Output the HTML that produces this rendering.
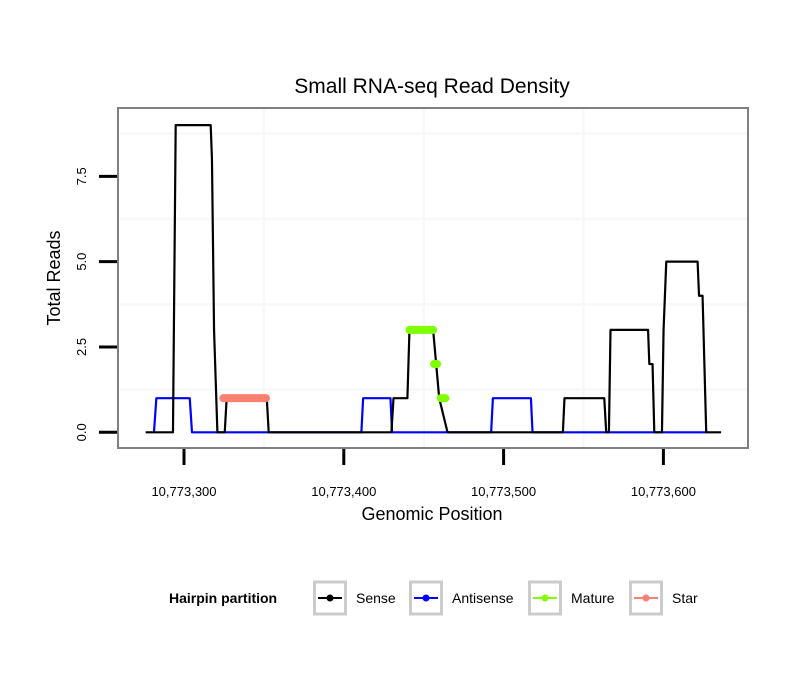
<!DOCTYPE html>
<html><head><meta charset="utf-8"><style>
body{margin:0;background:#fff;}
svg text{font-family:"Liberation Sans",sans-serif;}
</style></head><body>
<svg id="chart" width="810" height="690" xmlns="http://www.w3.org/2000/svg">
<rect width="810" height="690" fill="#fff"/>
<text x="432" y="93" font-size="21" text-anchor="middle">Small RNA-seq Read Density</text>
<g id="grid"></g>
<g id="series"></g>
<rect x="118" y="108" width="630" height="340" fill="none" stroke="#808080" stroke-width="2"/>
<g id="axes"></g>
<text x="432" y="520" font-size="18" text-anchor="middle">Genomic Position</text>
<text transform="translate(60,278) rotate(-90)" font-size="18" text-anchor="middle">Total Reads</text>
<g id="legend">
<text x="169" y="603" font-size="14" font-weight="bold">Hairpin partition</text>
</g>
</svg>
<script>
const sensePos=[276.0,293.1,294.8,316.7,317.5,318.8,320.9,325.5,326.7,351.8,353.0,429.8,431.1,439.8,441.1,455.9,457.8,459.7,464.9,537.1,538.1,563.0,564.2,565.9,566.9,590.4,591.2,593.2,594.3,599.1,600.1,601.8,621.4,622.3,624.5,626.8,636.1];
const senseVal=[0,0,9,9,8,3,0,0,1,1,0,0,1,1,3,3,2,1,0,0,1,1,0,0,3,3,2,2,0,0,3,5,5,4,4,0,0];
const antiPos=[281.2,282.7,303.6,305.0,411.0,412.1,429.2,430.2,492.2,493.3,517.1,518.1,626.8];
const antiVal=[0,1,1,0,0,1,1,0,0,1,1,0,0];
const matureSegs=[[441.1,455.9],[456.5,458.4],[460.7,463.6]];
const matureVal=[3,2,1];
const starSegs=[[324.6,351.3]];
const starVal=[1];
const yTicks=[0,2.5,5,7.5];
const yTickLabels=["0.0","2.5","5.0","7.5"];
const xTicks=[300,400,500,600];
const xTickLabels=["10,773,300","10,773,400","10,773,500","10,773,600"];
const legendNames=["Sense","Antisense","Mature","Star"];
const legendColors=["#000000","#0000ff","#7fff00","#fa8072"];

const NS="http://www.w3.org/2000/svg";
const X=p=>184+(p-300)*1.598;
const Y=v=>432.3-v*34.13;
function mk(tag,attrs,parent){const e=document.createElementNS(NS,tag);for(const k in attrs)e.setAttribute(k,attrs[k]);parent.appendChild(e);return e;}
const grid=document.getElementById('grid'),series=document.getElementById('series'),axes=document.getElementById('axes'),legend=document.getElementById('legend');
[1.25,3.75,6.25,8.75].forEach(v=>{const l=mk('line',{x1:119,x2:747,y1:Y(v),y2:Y(v),stroke:'#f8f8f8','stroke-width':2.5},grid);

});
[350,450,550].forEach(p=>{const l=mk('line',{x1:X(p),x2:X(p),y1:109,y2:447,stroke:'#f8f8f8','stroke-width':2.5},grid);

});
function poly(ps,vs,color,name){const pts=ps.map((p,i)=>X(p)+','+Y(vs[i])).join(' ');
const l=mk('polyline',{points:pts,fill:'none',stroke:color,'stroke-width':2.2,'stroke-linejoin':'round'},series);

}
poly(antiPos,antiVal,'#0000ff','antisense-line');
poly(sensePos,senseVal,'#000000','sense-line');
function segs(ss,vs,color,name){ss.forEach((s,i)=>{const l=mk('line',{x1:X(s[0]),x2:X(s[1]),y1:Y(vs[i]),y2:Y(vs[i]),stroke:color,'stroke-width':8,'stroke-linecap':'round'},series);

});}
segs(matureSegs,matureVal,'#7fff00','mature-segment');
segs(starSegs,starVal,'#fa8072','star-segment');
yTicks.forEach((v,i)=>{const t=mk('line',{x1:99,x2:117,y1:Y(v),y2:Y(v),stroke:'#000','stroke-width':3},axes);


const tx=mk('text',{transform:`translate(86,${Y(v)}) rotate(-90)`,'font-size':13,'text-anchor':'middle'},axes);tx.textContent=yTickLabels[i];

});
xTicks.forEach((p,i)=>{const t=mk('line',{x1:X(p),x2:X(p),y1:449,y2:465,stroke:'#000','stroke-width':3},axes);


const tx=mk('text',{x:X(p),y:496,'font-size':13,'text-anchor':'middle'},axes);tx.textContent=xTickLabels[i];

});
const boxX=[313,409,528,629];
legendNames.forEach((n,i)=>{const bx=boxX[i];
const g=mk('g',{},legend);


mk('rect',{x:bx+1.5,y:582,width:31,height:32,fill:'#fff',stroke:'#cccccc','stroke-width':3},g);
mk('line',{x1:bx+5,x2:bx+29,y1:598,y2:598,stroke:legendColors[i],'stroke-width':2},g);
mk('circle',{cx:bx+17,cy:598,r:3.5,fill:legendColors[i]},g);
const tx=mk('text',{x:bx+43,y:603,'font-size':14},g);tx.textContent=n;});
</script>
</body></html>
